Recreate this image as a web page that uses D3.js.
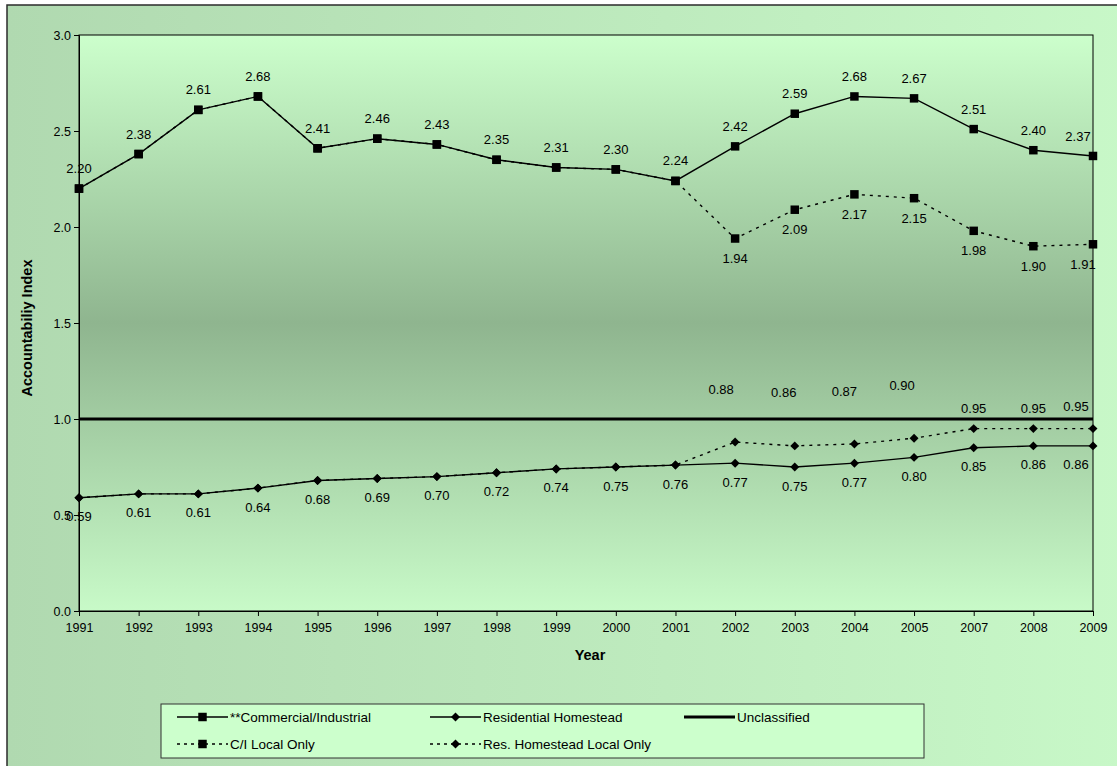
<!DOCTYPE html>
<html>
<head>
<meta charset="utf-8">
<script src="https://cdn.jsdelivr.net/npm/d3@7"></script>
<style>
  html, body { margin: 0; padding: 0; background: #ffffff; }
  svg { display: block; font-family: "Liberation Sans", Arial, sans-serif; }
</style>
</head>
<body>
<svg id="chart" width="1117" height="766"></svg>
<script>
// ---- data ----
const years = ["1991","1992","1993","1994","1995","1996","1997","1998","1999","2000","2001","2002","2003","2004","2005","2007","2008","2009"];
const commercialIndustrial = [2.20,2.38,2.61,2.68,2.41,2.46,2.43,2.35,2.31,2.30,2.24,2.42,2.59,2.68,2.67,2.51,2.40,2.37];
const ciLocalOnly          = [2.20,2.38,2.61,2.68,2.41,2.46,2.43,2.35,2.31,2.30,2.24,1.94,2.09,2.17,2.15,1.98,1.90,1.91];
const residentialHomestead = [0.59,0.61,0.61,0.64,0.68,0.69,0.70,0.72,0.74,0.75,0.76,0.77,0.75,0.77,0.80,0.85,0.86,0.86];
const resHomesteadLocal    = [0.59,0.61,0.61,0.64,0.68,0.69,0.70,0.72,0.74,0.75,0.76,0.88,0.86,0.87,0.90,0.95,0.95,0.95];
const unclassified         = [1.00,1.00,1.00,1.00,1.00,1.00,1.00,1.00,1.00,1.00,1.00,1.00,1.00,1.00,1.00,1.00,1.00,1.00];
const yTicks = [0.0,0.5,1.0,1.5,2.0,2.5,3.0];
const legendNames = ["**Commercial/Industrial","Residential Homestead","Unclassified","C/I Local Only","Res. Homestead Local Only"];

// ---- layout ----
const svg = d3.select("#chart");
const plot = { left: 79, top: 35, right: 1093, bottom: 611 };

const defs = svg.append("defs");
const outerGrad = defs.append("linearGradient").attr("id","outerBg")
  .attr("x1","0").attr("y1","0").attr("x2","1").attr("y2","0");
outerGrad.append("stop").attr("offset","0%").attr("stop-color","#b0d9b0");
outerGrad.append("stop").attr("offset","100%").attr("stop-color","#c8f8c8");

const plotGrad = defs.append("linearGradient").attr("id","plotBg")
  .attr("x1","0").attr("y1","0").attr("x2","0").attr("y2","1");
plotGrad.append("stop").attr("offset","0%").attr("stop-color","#ccffcc");
plotGrad.append("stop").attr("offset","50%").attr("stop-color","#8fb58f");
plotGrad.append("stop").attr("offset","100%").attr("stop-color","#c8fac8");

// chart frame
svg.append("rect").attr("x",7).attr("y",5).attr("width",1130).attr("height",780)
  .attr("fill","url(#outerBg)").attr("stroke","#2b2b2b").attr("stroke-width",1.5);

// plot area
svg.append("rect")
  .attr("x",plot.left).attr("y",plot.top)
  .attr("width",plot.right-plot.left).attr("height",plot.bottom-plot.top)
  .attr("fill","url(#plotBg)").attr("stroke","#000").attr("stroke-width",1);

const x = d3.scalePoint().domain(years).range([plot.left, plot.right]);
const y = d3.scaleLinear().domain([0,3]).range([plot.bottom, plot.top]);

// axes
const yAxis = svg.append("g").attr("transform",`translate(${plot.left},0)`)
  .call(d3.axisLeft(y).tickValues(yTicks).tickFormat(d3.format(".1f")).tickSize(5).tickPadding(3));
const xAxis = svg.append("g").attr("transform",`translate(0,${plot.bottom})`)
  .call(d3.axisBottom(x).tickSize(5).tickPadding(7));
[yAxis, xAxis].forEach(g => {
  g.select(".domain").attr("stroke","#000");
  g.selectAll(".tick line").attr("stroke","#000");
  g.selectAll("text").attr("font-size","12.5px").attr("fill","#000")
    .attr("font-family","'Liberation Sans', Arial, sans-serif");
});

svg.append("text").attr("transform",`translate(32,${(plot.top+plot.bottom)/2+5}) rotate(-90)`)
  .attr("text-anchor","middle").attr("font-size","14.5px").attr("font-weight","bold")
  .text("Accountabiliy Index");
svg.append("text").attr("x",(plot.left+plot.right)/2+4).attr("y",660)
  .attr("text-anchor","middle").attr("font-size","14.5px").attr("font-weight","bold")
  .text("Year");

// ---- marks ----
const line = d3.line().x((d,i) => x(years[i])).y(d => y(d));
const square = d3.symbol().type(d3.symbolSquare).size(72);
// rhombus with equal diagonals, like a square turned by 45 degrees
const rhombus = { draw(ctx, size) { const r = Math.sqrt(size / 2); ctx.moveTo(0,-r); ctx.lineTo(r,0); ctx.lineTo(0,r); ctx.lineTo(-r,0); ctx.closePath(); } };
const diamond = d3.symbol().type(rhombus).size(40);
const g = svg.append("g");

// Unclassified reference line
g.append("path").datum(unclassified).attr("d",line)
  .attr("fill","none").attr("stroke","#000").attr("stroke-width",3);

const series = [
  { values: commercialIndustrial, dash: null,  sym: square },
  { values: residentialHomestead, dash: null,  sym: diamond },
  { values: ciLocalOnly,          dash: "3,5", sym: square },
  { values: resHomesteadLocal,    dash: "3,5", sym: diamond }
];
series.forEach(s => {
  g.append("path").datum(s.values).attr("d",line)
    .attr("fill","none").attr("stroke","#000").attr("stroke-width",1.4)
    .attr("stroke-dasharray",s.dash);
});
series.forEach(s => {
  g.selectAll(null).data(s.values).join("path")
    .attr("d",s.sym)
    .attr("transform",(d,i) => `translate(${x(years[i])},${y(d)})`)
    .attr("fill","#000");
});

// ---- value labels ----
const lastYear = years[years.length-1];
const labelLayer = svg.append("g").attr("font-size","13px").attr("fill","#000").attr("text-anchor","middle");
function addLabels(values, dyFn, dxFn, keep) {
  values.forEach((v,i) => {
    if (keep && !keep(v,i)) return;
    labelLayer.append("text")
      .attr("x", x(years[i]) + dxFn(years[i]))
      .attr("y", y(v) + dyFn(years[i]))
      .attr("dy","0.35em")
      .text(d3.format(".2f")(v));
  });
}
// main series: C/I labels above, residential labels below
addLabels(commercialIndustrial, () => -20, yr => yr === lastYear ? -15 : 0);
addLabels(residentialHomestead, () => 19, yr => yr === lastYear ? -17 : 0);
// local-only series: labelled only where they depart from the main series
addLabels(ciLocalOnly, () => 20, yr => yr === lastYear ? -10 : 0,
  (v,i) => v !== commercialIndustrial[i]);
const resLocalDy = { "2002": -53, "2003": -53, "2004": -53, "2005": -53, "2007": -20, "2008": -20, "2009": -22 };
const resLocalDx = { "2002": -14, "2003": -11, "2004": -10, "2005": -12, "2007": 0, "2008": 0, "2009": -17 };
addLabels(resHomesteadLocal, yr => resLocalDy[yr], yr => resLocalDx[yr],
  (v,i) => v !== residentialHomestead[i]);

// ---- legend ----
const legend = svg.append("g");
legend.append("rect").attr("x",161).attr("y",704).attr("width",763).attr("height",54)
  .attr("fill","#ccffcc").attr("stroke","#333").attr("stroke-width",1);
const legendItems = [
  { name: legendNames[0], x: 177, y: 717, dash: null,  sym: square,  w: 1.4 },
  { name: legendNames[1], x: 430, y: 717, dash: null,  sym: diamond, w: 1.4 },
  { name: legendNames[2], x: 684, y: 717, dash: null,  sym: null,    w: 3 },
  { name: legendNames[3], x: 177, y: 744, dash: "3,4", sym: square,  w: 1.4 },
  { name: legendNames[4], x: 430, y: 744, dash: "3,4", sym: diamond, w: 1.4 }
];
legendItems.forEach(it => {
  legend.append("line").attr("x1",it.x).attr("x2",it.x+51).attr("y1",it.y).attr("y2",it.y)
    .attr("stroke","#000").attr("stroke-width",it.w).attr("stroke-dasharray",it.dash);
  if (it.sym) legend.append("path").attr("d",it.sym)
    .attr("transform",`translate(${it.x+25.5},${it.y})`).attr("fill","#000");
  legend.append("text").attr("x",it.x+53).attr("y",it.y).attr("dy","0.35em")
    .attr("font-size","13.5px").text(it.name);
});
</script>
</body>
</html>
